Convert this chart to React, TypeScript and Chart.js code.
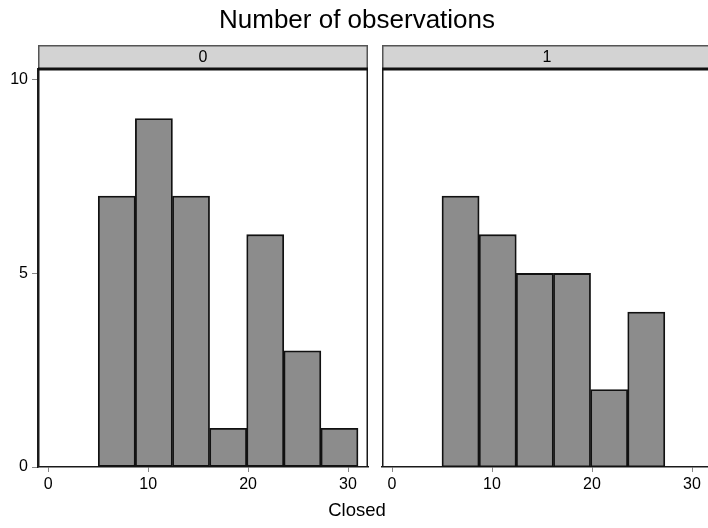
import React, { useEffect, useRef } from "react";
import { Chart, registerables } from "chart.js";

Chart.register(...registerables);

const TITLE = "Number of observations";
const X_LABEL = "Closed";
const PANEL_LABELS = ["0", "1"];
const binEdges = [5, 8.714, 12.429, 16.143, 19.857, 23.571, 27.286, 31];
const countsPanel0 = [7, 9, 7, 1, 6, 3, 1];
const countsPanel1 = [7, 6, 5, 5, 2, 4, 0];
const xTicks = [0, 10, 20, 30];
const yTicks = [0, 5, 10];

const FONT = "'Liberation Sans', Arial, Helvetica, sans-serif";

function makePoints(counts: number[]) {
  return counts.map((c, i) => ({
    x: (binEdges[i] + binEdges[i + 1]) / 2,
    y: c > 0 ? c : null,
  }));
}

function panelPlugin(label: string) {
  return {
    id: "panelFrame",
    beforeDraw(chart: any) {
      const { ctx, chartArea } = chart;
      const { left, right, top } = chartArea;
      ctx.save();
      ctx.fillStyle = "#d3d3d3";
      ctx.fillRect(left, 45, right - left, top - 45);
      ctx.strokeStyle = "#555";
      ctx.lineWidth = 1.5;
      ctx.beginPath();
      ctx.moveTo(left, 45.75);
      ctx.lineTo(right, 45.75);
      ctx.moveTo(left + 0.75, 45);
      ctx.lineTo(left + 0.75, top);
      ctx.moveTo(right - 0.75, 45);
      ctx.lineTo(right - 0.75, top);
      ctx.stroke();
      ctx.fillStyle = "#000";
      ctx.font = "16px " + FONT;
      ctx.textAlign = "center";
      ctx.textBaseline = "middle";
      ctx.fillText(label, (left + right) / 2, 58);
      ctx.restore();
    },
    afterDraw(chart: any) {
      const { ctx, chartArea } = chart;
      const { left, right, top, bottom } = chartArea;
      ctx.save();
      ctx.strokeStyle = "#1a1a1a";
      ctx.lineWidth = 1.5;
      ctx.beginPath();
      ctx.moveTo(left + 0.75, top);
      ctx.lineTo(left + 0.75, bottom);
      ctx.moveTo(right - 0.75, top);
      ctx.lineTo(right - 0.75, bottom);
      ctx.stroke();
      ctx.lineWidth = 3;
      ctx.strokeStyle = "#111";
      ctx.beginPath();
      ctx.moveTo(left, top);
      ctx.lineTo(right, top);
      ctx.stroke();
      ctx.restore();
    },
  };
}

function buildConfig(counts: number[], label: string, showY: boolean, xMin: number, xMax: number, padLeft: number, padRight: number): any {
  return {
    type: "bar",
    data: {
      datasets: [
        {
          data: makePoints(counts),
          backgroundColor: "#8c8c8c",
          borderColor: "#111",
          borderWidth: 1.8,
          borderSkipped: false,
          barPercentage: 1,
          categoryPercentage: 1,
        },
      ],
    },
    options: {
      animation: false,
      responsive: false,
      maintainAspectRatio: false,
      events: [],
      layout: { padding: { top: 69, left: padLeft, right: padRight, bottom: 0 } },
      plugins: { legend: { display: false }, tooltip: { enabled: false }, title: { display: false } },
      scales: {
        x: {
          type: "linear",
          min: xMin,
          max: xMax,
          offset: false,
          grid: { offset: false, drawOnChartArea: false, drawTicks: true, tickLength: 5, color: "#888", lineWidth: 1 },
          border: { display: true, color: "#1a1a1a", width: 1.5 },
          ticks: { font: { size: 16, family: FONT }, color: "#000", padding: 3, maxRotation: 0 },
          afterBuildTicks: (s: any) => {
            s.ticks = xTicks.map((v) => ({ value: v }));
          },
          afterFit: (s: any) => {
            s.height = 61;
          },
        },
        y: {
          type: "linear",
          display: showY,
          min: 0,
          max: 10.28,
          grid: { drawOnChartArea: false, drawTicks: true, tickLength: 6, color: "#888", lineWidth: 1 },
          border: { display: true, color: "#1a1a1a", width: 1.5 },
          ticks: { font: { size: 16, family: FONT }, color: "#000", padding: 4 },
          afterBuildTicks: (s: any) => {
            s.ticks = yTicks.map((v) => ({ value: v }));
          },
          afterFit: (s: any) => {
            s.width = showY ? 38 : 0;
          },
        },
      },
    },
    plugins: [panelPlugin(label)],
  };
}

export default function App() {
  const leftRef = useRef<HTMLCanvasElement>(null);
  const rightRef = useRef<HTMLCanvasElement>(null);

  useEffect(() => {
    const c1 = new Chart(leftRef.current!, buildConfig(countsPanel0, PANEL_LABELS[0], true, -1.03, 32.0, 0, 4));
    const c2 = new Chart(rightRef.current!, buildConfig(countsPanel1, PANEL_LABELS[1], false, -1.0, 32.0, 10, 0));
    return () => {
      c1.destroy();
      c2.destroy();
    };
  }, []);

  return (
    <div style={{ position: "fixed", left: 0, top: 0, width: 708, height: 528, background: "#fff", overflow: "hidden", fontFamily: FONT }}>
      <canvas ref={leftRef} width={372} height={528} style={{ position: "absolute", left: 0, top: 0, width: 372, height: 528 }} />
      <canvas ref={rightRef} width={340} height={528} style={{ position: "absolute", left: 372, top: 0, width: 340, height: 528 }} />
      <div style={{ position: "absolute", left: 0, width: 714, top: 3, textAlign: "center", fontSize: 26, lineHeight: "32px", color: "#000" }}>{TITLE}</div>
      <div style={{ position: "absolute", left: 0, width: 714, top: 498, textAlign: "center", fontSize: 18.5, lineHeight: "24px", color: "#000" }}>{X_LABEL}</div>
    </div>
  );
}
